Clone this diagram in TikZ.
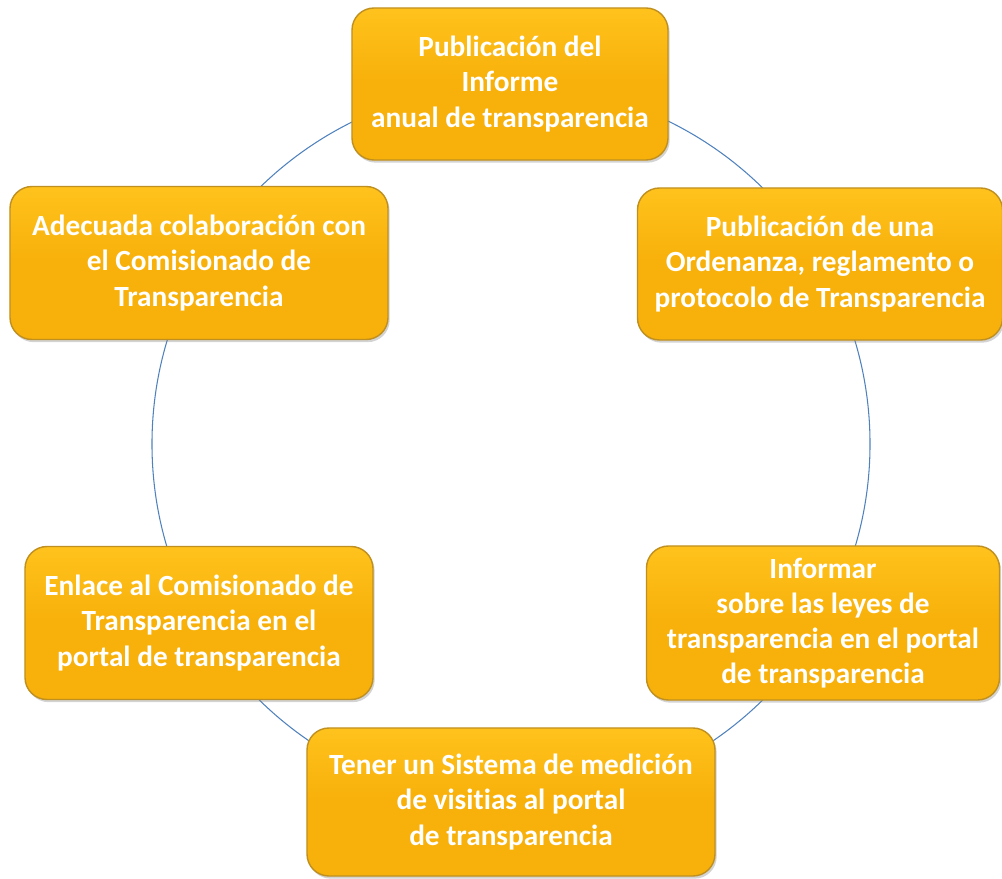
\documentclass[tikz,border=0pt]{standalone}
\usepackage{fontspec}
\setmainfont{Carlito}[Ligatures=NoCommon]
\usetikzlibrary{shadows}
\definecolor{oro}{HTML}{F8B00A}
\definecolor{oroclaro}{HTML}{FFC21C}
\definecolor{borde}{HTML}{BF9020}
\definecolor{anillo}{HTML}{4F81BD}
\begin{document}
\begin{tikzpicture}[
       x=0.03cm, y=-0.03cm,
       caja/.style={
         rectangle,
         rounded corners=0.66cm,
         top color=oroclaro,
         bottom color=oro,
         middle color=oro,
         draw=borde,
         line width=1.2pt,
         drop shadow={shadow xshift=0.05cm, shadow yshift=-0.08cm, opacity=0.35},
         text=white,
         align=center,
         font=\fontsize{25}{30}\selectfont\bfseries,
         inner sep=2pt
       }
     ]
       \useasboundingbox (0,0) rectangle (1002,879);

       \coordinate (c) at (511,444);
       \draw[anillo, line width=0.9pt] (c) circle (10.77cm);

       \node (arriba) at (510,84) [caja, minimum width=9.48cm, minimum height=4.56cm]
         {Publicación del\\Informe\\anual de transparencia};
       \node (dsup) at (820,264) [caja, minimum width=10.95cm, minimum height=4.56cm]
         {Publicación de una\\Ordenanza, reglamento o\\protocolo de Transparencia};
       \node (isup) at (199,263) [caja, minimum width=11.34cm, minimum height=4.59cm]
         {Adecuada colaboración con\\el Comisionado de\\Transparencia};
       \node (iinf) at (199,623) [caja, minimum width=10.44cm, minimum height=4.59cm]
         {Enlace al Comisionado de\\Transparencia en el\\portal de transparencia};
       \node (dinf) at (823,623) [caja, minimum width=10.59cm, minimum height=4.62cm]
         {Informar\\sobre las leyes de\\transparencia en el portal\\de transparencia};
       \node (abajo) at (511,802) [caja, minimum width=12.24cm, minimum height=4.44cm]
         {Tener un Sistema de medición\\de visitias al portal\\de transparencia};

\end{tikzpicture}
\end{document}
